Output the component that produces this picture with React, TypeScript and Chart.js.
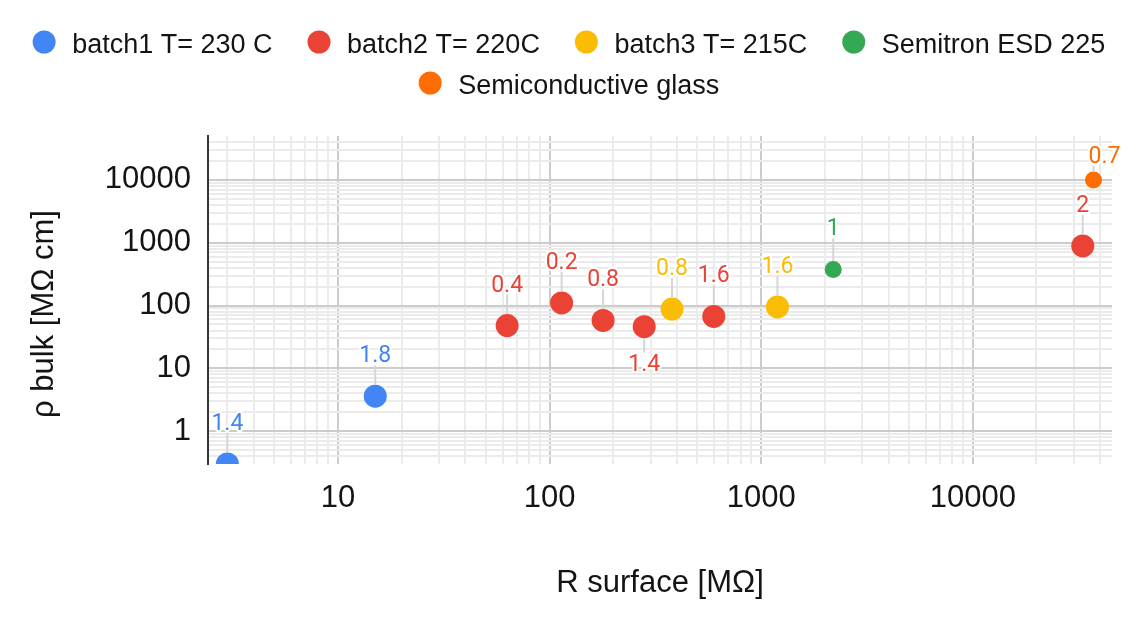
import React, { useEffect, useRef } from 'react';
import { Chart, registerables } from 'chart.js';

Chart.register(...registerables);

// ---------- data ----------
const SERIES_NAMES = ['batch1 T= 230 C', 'batch2 T= 220C', 'batch3 T= 215C', 'Semitron ESD 225', 'Semiconductive glass'];
const SERIES_COLORS = ['#4285F4', '#EA4335', '#FBBC04', '#34A853', '#FF6D01'];

const batch1X = [3, 15];
const batch1Y = [0.3, 3.6];
const batch1Labels = ['1.4', '1.8'];

const batch2X = [63, 114, 179, 280, 597, 33100];
const batch2Y = [48, 110, 58, 46, 67, 890];
const batch2Labels = ['0.4', '0.2', '0.8', '1.4', '1.6', '2'];

const batch3X = [379, 1194];
const batch3Y = [88, 95];
const batch3Labels = ['0.8', '1.6'];

const semitronX = [2190];
const semitronY = [376];
const semitronLabels = ['1'];

const glassX = [37200];
const glassY = [10000];
const glassLabels = ['0.7'];

const X_TICK_LABELS = [10, 100, 1000, 10000];
const Y_TICK_LABELS = [1, 10, 100, 1000, 10000];
const X_MIN = 2.43;
const X_MAX = 45500;
const Y_MIN = 0.3;
const Y_MAX = 50000;

const X_TITLE = 'R surface [MΩ]';
const Y_TITLE = 'ρ bulk [MΩ cm]';

// ---------- styling / layout ----------
const FONT = '"Liberation Sans", Arial, Helvetica, sans-serif';
const ANNOT_FONT = 'Roboto, "Noto Sans", sans-serif';
const TEXT_COLOR = '#141414';
const MAJOR_GRID = '#cccccc';
const MINOR_GRID = '#ebebeb';
const BIG_R = 11.5;
const SMALL_R = 8.5;
const RADII = [BIG_R, BIG_R, BIG_R, SMALL_R, SMALL_R];

// label placement exceptions: key "datasetIndex:pointIndex"
const LABEL_PLACEMENT: Record<string, { side: 'above' | 'below'; dx?: number; gap?: number }> = {
  '1:3': { side: 'below' },
  '4:0': { side: 'above', dx: 11, gap: 17 },
};

const SERIES = [
  { name: SERIES_NAMES[0], color: SERIES_COLORS[0], xs: batch1X, ys: batch1Y, labels: batch1Labels },
  { name: SERIES_NAMES[1], color: SERIES_COLORS[1], xs: batch2X, ys: batch2Y, labels: batch2Labels },
  { name: SERIES_NAMES[2], color: SERIES_COLORS[2], xs: batch3X, ys: batch3Y, labels: batch3Labels },
  { name: SERIES_NAMES[3], color: SERIES_COLORS[3], xs: semitronX, ys: semitronY, labels: semitronLabels },
  { name: SERIES_NAMES[4], color: SERIES_COLORS[4], xs: glassX, ys: glassY, labels: glassLabels },
];

const isPow10 = (v: number) => {
  if (!(v > 0)) return false;
  const l = Math.log10(v);
  return Math.abs(l - Math.round(l)) < 1e-9;
};
const inList = (v: number, list: number[]) => list.some((t) => Math.abs(t - v) / t < 1e-9);

// gridline positions at 1..9 x 10^k strictly inside the axis range
const logGrid = (min: number, max: number) => {
  const out: { value: number }[] = [];
  const e0 = Math.floor(Math.log10(min));
  const e1 = Math.ceil(Math.log10(max));
  for (let e = e0; e <= e1; e++) {
    for (let m = 1; m <= 9; m++) {
      const v = e >= 0 ? m * Math.pow(10, e) : m / Math.pow(10, -e);
      if (v > min * 1.001 && v < max * 0.999) out.push({ value: v });
    }
  }
  return out;
};

const legendPlugin = {
  id: 'gLegend',
  afterDraw(chart: any) {
    const { ctx, width } = chart;
    const R = 11.5;
    const GAP_TEXT = 16.5;
    const GAP_ITEM = 35;
    ctx.save();
    ctx.font = `27px ${FONT}`;
    const items = SERIES.map((s) => ({
      text: s.name,
      color: s.color,
      w: 2 * R + GAP_TEXT + ctx.measureText(s.name).width,
    }));
    const rows: { items: typeof items; w: number }[] = [];
    let cur: typeof items = [];
    let curW = 0;
    const maxW = width - 40;
    items.forEach((it) => {
      const add = cur.length ? GAP_ITEM + it.w : it.w;
      if (cur.length && curW + add > maxW) {
        rows.push({ items: cur, w: curW });
        cur = [it];
        curW = it.w;
      } else {
        cur.push(it);
        curW += add;
      }
    });
    if (cur.length) rows.push({ items: cur, w: curW });
    rows.forEach((row, ri) => {
      const cy = 42 + ri * 41;
      let x = (width - row.w) / 2;
      row.items.forEach((it) => {
        ctx.fillStyle = it.color;
        ctx.beginPath();
        ctx.arc(x + R, cy, R, 0, Math.PI * 2);
        ctx.fill();
        ctx.fillStyle = TEXT_COLOR;
        ctx.textAlign = 'left';
        ctx.textBaseline = 'alphabetic';
        ctx.fillText(it.text, x + 2 * R + GAP_TEXT, cy + 10.7);
        x += it.w + GAP_ITEM;
      });
    });
    ctx.restore();
  },
};

const yTitlePlugin = {
  id: 'yTitle',
  afterDraw(chart: any) {
    const { ctx } = chart;
    ctx.save();
    ctx.translate(44, 314);
    ctx.rotate(-Math.PI / 2);
    ctx.font = `31px ${FONT}`;
    ctx.fillStyle = TEXT_COLOR;
    ctx.textAlign = 'center';
    ctx.textBaseline = 'middle';
    ctx.fillText(Y_TITLE, 0, 0);
    ctx.restore();
  },
};

const annotationPlugin = {
  id: 'pointAnnotations',
  afterDatasetsDraw(chart: any) {
    const { ctx } = chart;
    ctx.save();
    ctx.font = `23px ${ANNOT_FONT}`;
    ctx.textAlign = 'center';
    ctx.textBaseline = 'alphabetic';
    SERIES.forEach((s, di) => {
      const meta = chart.getDatasetMeta(di);
      const r = RADII[di];
      meta.data.forEach((pt: any, i: number) => {
        const text = s.labels[i];
        if (!text) return;
        const place = LABEL_PLACEMENT[`${di}:${i}`] || { side: 'above' };
        const dx = place.dx || 0;
        const { x, y } = pt;
        let baseline: number;
        let stemA: number;
        let stemB: number;
        if (place.side === 'below') {
          baseline = y + 44.5;
          stemA = y + r;
          stemB = y + 26;
        } else {
          const gap = place.gap || 34;
          baseline = y - gap;
          stemA = baseline + 3;
          stemB = y - r;
        }
        if (stemB > stemA) {
          ctx.strokeStyle = '#d6d6d6';
          ctx.lineWidth = 2;
          ctx.beginPath();
          ctx.moveTo(x, stemA);
          ctx.lineTo(x, stemB);
          ctx.stroke();
        }
        ctx.lineJoin = 'round';
        ctx.strokeStyle = '#ffffff';
        ctx.lineWidth = 4;
        ctx.strokeText(text, x + dx, baseline);
        ctx.fillStyle = s.color;
        ctx.fillText(text, x + dx, baseline);
      });
    });
    ctx.restore();
  },
};

export default function App() {
  const canvasRef = useRef<HTMLCanvasElement | null>(null);

  useEffect(() => {
    document.body.style.margin = '0';
    document.body.style.overflow = 'hidden';
    const canvas = canvasRef.current;
    if (!canvas) return;

    const datasets = SERIES.map((s, di) => ({
      label: s.name,
      data: s.xs.map((x, i) => ({ x, y: s.ys[i] })),
      backgroundColor: s.color,
      borderColor: s.color,
      pointRadius: RADII[di],
      pointHoverRadius: RADII[di],
      pointBorderWidth: 0,
      showLine: false,
      clip: 0,
    }));

    const tickFont = { family: FONT, size: 31 };

    const chart = new Chart(canvas, {
      type: 'scatter',
      data: { datasets },
      plugins: [annotationPlugin, legendPlugin, yTitlePlugin],
      options: {
        animation: false,
        responsive: false,
        events: [],
        layout: { padding: { top: 136, right: 26, left: 0, bottom: 0 } },
        plugins: {
          legend: { display: false },
          tooltip: { enabled: false },
        },
        scales: {
          x: {
            type: 'logarithmic',
            position: 'bottom',
            min: X_MIN,
            max: X_MAX,
            afterBuildTicks: (scale: any) => {
              scale.ticks = logGrid(scale.min, scale.max);
            },
            afterFit: (scale: any) => {
              scale.height = 162;
            },
            grid: {
              color: (c: any) => (c.tick && isPow10(c.tick.value) ? MAJOR_GRID : MINOR_GRID),
              lineWidth: 2,
              drawTicks: false,
            },
            border: { display: false },
            ticks: {
              autoSkip: false,
              maxRotation: 0,
              minRotation: 0,
              padding: 16,
              color: TEXT_COLOR,
              font: tickFont,
              callback: (v: any) => (inList(Number(v), X_TICK_LABELS) ? String(Math.round(Number(v))) : ''),
            },
            title: {
              display: true,
              text: X_TITLE,
              color: TEXT_COLOR,
              font: tickFont,
              padding: { top: 0, bottom: 24 },
            },
          },
          y: {
            type: 'logarithmic',
            position: 'left',
            min: Y_MIN,
            max: Y_MAX,
            afterBuildTicks: (scale: any) => {
              scale.ticks = logGrid(scale.min, scale.max);
            },
            afterFit: (scale: any) => {
              scale.width = 208;
            },
            grid: {
              color: (c: any) => (c.tick && isPow10(c.tick.value) ? MAJOR_GRID : MINOR_GRID),
              lineWidth: 2,
              drawTicks: false,
            },
            border: { display: true, color: '#333333', width: 2 },
            ticks: {
              autoSkip: false,
              padding: 17,
              color: TEXT_COLOR,
              font: tickFont,
              callback: (v: any) => (inList(Number(v), Y_TICK_LABELS) ? String(Math.round(Number(v))) : ''),
            },
            title: { display: false },
          },
        },
      },
    } as any);

    return () => {
      chart.destroy();
    };
  }, []);

  return (
    <div style={{ width: 1138, height: 626, background: '#ffffff' }}>
      <canvas ref={canvasRef} width={1138} height={626} style={{ display: 'block', width: 1138, height: 626 }} />
    </div>
  );
}
